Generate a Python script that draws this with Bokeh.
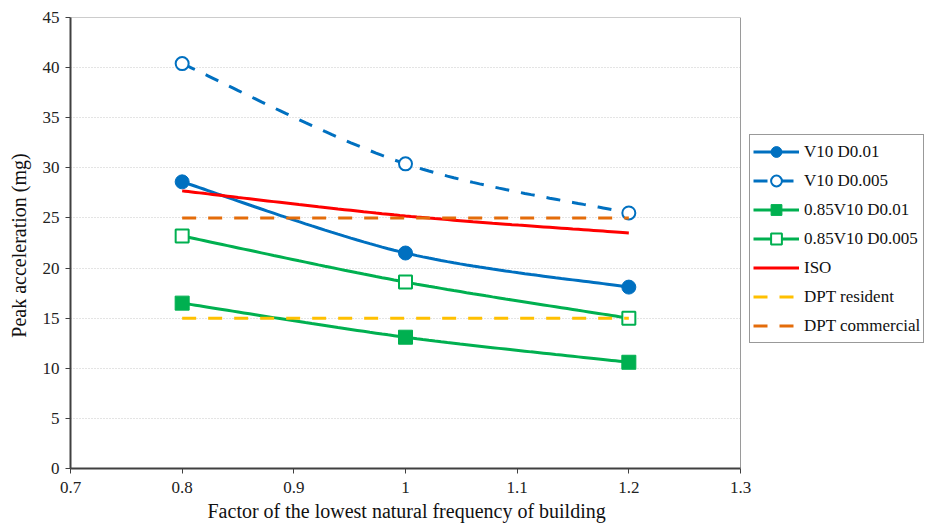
from bokeh.plotting import figure
from bokeh.models import Legend, LegendItem, Range1d, FixedTicker, Title
from bokeh.embed import file_html
from bokeh.resources import INLINE

# ---- data ----
freq = [0.8, 1.0, 1.2]
v10_d001 = [28.6, 21.5, 18.1]
v10_d0005 = [40.4, 30.4, 25.5]
v085_d001 = [16.5, 13.1, 10.6]
v085_d0005 = [23.2, 18.6, 15.0]
iso = [27.7, 25.2, 23.5]
dpt_resident = [15, 15, 15]
dpt_commercial = [25, 25, 25]
x_ticks = [0.7, 0.8, 0.9, 1.0, 1.1, 1.2, 1.3]
y_ticks = [0, 5, 10, 15, 20, 25, 30, 35, 40, 45]


def smooth(xs, ys, n=40):
    # Catmull-Rom style smoothing (like Excel smoothed lines)
    px = [xs[0]] + list(xs) + [xs[-1]]
    py = [ys[0]] + list(ys) + [ys[-1]]
    ox, oy = [], []
    for i in range(1, len(px) - 2):
        x0, x1, x2, x3 = px[i - 1], px[i], px[i + 1], px[i + 2]
        y0, y1, y2, y3 = py[i - 1], py[i], py[i + 1], py[i + 2]
        t_s = 1.0 / 6.0
        c1x, c1y = x1 + (x2 - x0) * t_s, y1 + (y2 - y0) * t_s
        c2x, c2y = x2 - (x3 - x1) * t_s, y2 - (y3 - y1) * t_s
        for k in range(n + 1):
            t = k / n
            a = (1 - t) ** 3
            b = 3 * (1 - t) ** 2 * t
            c = 3 * (1 - t) * t ** 2
            d = t ** 3
            ox.append(a * x1 + b * c1x + c * c2x + d * x2)
            oy.append(a * y1 + b * c1y + c * c2y + d * y2)
    return ox, oy


FONT = "Liberation Serif"
BLUE = "#0070C0"
GREEN = "#00B050"
RED = "#FF0000"
YELLOW = "#FFC000"
ORANGE = "#E46C0A"

W, H = 928, 526
LEFT, TOP, BOTTOM, RIGHT = 70, 17, 58, 0
AXIS_PX = 670  # pixel width of the 0.7..1.3 data span
frame_w = W - LEFT - RIGHT
x_start, x_end_axis = x_ticks[0], x_ticks[-1]
x_end = x_start + (x_end_axis - x_start) * frame_w / AXIS_PX

p = figure(width=W, height=H, output_backend="svg",
           toolbar_location=None, x_range=Range1d(x_start, x_end),
           y_range=Range1d(y_ticks[0], y_ticks[-1]),
           min_border_left=LEFT, min_border_top=TOP, min_border_bottom=BOTTOM,
           min_border_right=RIGHT)

p.outline_line_color = None
p.background_fill_color = "white"
p.border_fill_color = "white"

p.xgrid.visible = False
p.ygrid.grid_line_color = "#C8C8C8"
p.ygrid.grid_line_dash = "1 2"
p.ygrid.grid_line_width = 1
p.ygrid.cross_bounds = (x_start, x_end_axis)

for ax in (p.xaxis[0], p.yaxis[0]):
    ax.axis_line_color = "#404040"
    ax.axis_line_width = 2
    ax.major_tick_line_color = "#404040"
    ax.major_tick_out = 5
    ax.major_tick_in = 0
    ax.minor_tick_line_color = None
    ax.major_label_text_font = FONT
    ax.major_label_text_font_size = "17px"
    ax.major_label_text_color = "#222222"
    ax.axis_label_text_font = FONT
    ax.axis_label_text_font_size = "20px"
    ax.axis_label_text_font_style = "normal"
    ax.axis_label_text_color = "#111111"

p.xaxis.bounds = (x_start, x_end_axis)
p.xaxis.ticker = FixedTicker(ticks=x_ticks)
p.yaxis.ticker = FixedTicker(ticks=y_ticks)
p.xaxis.major_label_overrides = {1.0: "1"}
p.yaxis.axis_label = "Peak acceleration  (mg)"
p.yaxis.axis_label_standoff = 10
p.xaxis.major_label_standoff = 8
p.yaxis.major_label_standoff = 6

xtitle = Title(text="Factor of the lowest  natural  frequency  of building",
               align="left", offset=137, standoff=4,
               text_font=FONT, text_font_size="20px", text_font_style="normal",
               text_color="#111111")
p.add_layout(xtitle, "below")

# grey plot-area border on top and right (at the axis limits)
p.segment(x0=[x_end_axis, x_start], y0=[y_ticks[0], y_ticks[-1]],
          x1=[x_end_axis, x_end_axis], y1=[y_ticks[-1], y_ticks[-1]],
          line_color="#9A9A9A", line_width=1)

items = []

sx, sy = smooth(freq, v10_d001)
l1 = p.line(sx, sy, line_color=BLUE, line_width=3)
m1 = p.scatter(freq, v10_d001, marker="circle", size=14, fill_color=BLUE, line_color=BLUE)
items.append(LegendItem(label="V10 D0.01", renderers=[l1, m1]))

sx, sy = smooth(freq, v10_d0005)
l2 = p.line(sx, sy, line_color=BLUE, line_width=3, line_dash="14 12")
m2 = p.scatter(freq, v10_d0005, marker="circle", size=13, fill_color="white", line_color=BLUE, line_width=2)
items.append(LegendItem(label="V10 D0.005", renderers=[l2, m2]))

sx, sy = smooth(freq, v085_d001)
l3 = p.line(sx, sy, line_color=GREEN, line_width=3)
m3 = p.scatter(freq, v085_d001, marker="square", size=14, fill_color=GREEN, line_color=GREEN)
items.append(LegendItem(label="0.85V10 D0.01", renderers=[l3, m3]))

sx, sy = smooth(freq, v085_d0005)
l4 = p.line(sx, sy, line_color=GREEN, line_width=3)
m4 = p.scatter(freq, v085_d0005, marker="square", size=13, fill_color="white", line_color=GREEN, line_width=2)
items.append(LegendItem(label="0.85V10 D0.005", renderers=[l4, m4]))

sx, sy = smooth(freq, iso)
l5 = p.line(sx, sy, line_color=RED, line_width=3)
items.append(LegendItem(label="ISO", renderers=[l5]))

l6 = p.line(freq, dpt_resident, line_color=YELLOW, line_width=3, line_dash="14 12")
items.append(LegendItem(label="DPT resident", renderers=[l6]))

l7 = p.line(freq, dpt_commercial, line_color=ORANGE, line_width=3, line_dash="14 12")
items.append(LegendItem(label="DPT commercial", renderers=[l7]))

legend = Legend(items=items, location=(679, 125))
legend.label_text_font = FONT
legend.label_text_font_size = "17px"
legend.label_text_color = "#111111"
legend.border_line_color = "#333333"
legend.border_line_width = 1
legend.background_fill_color = "white"
legend.glyph_width = 46
legend.glyph_height = 27
legend.label_height = 27
legend.label_standoff = 5
legend.spacing = 2
legend.padding = 3
legend.margin = 0
p.add_layout(legend)

open("out.html", "w").write(file_html(p, INLINE))
